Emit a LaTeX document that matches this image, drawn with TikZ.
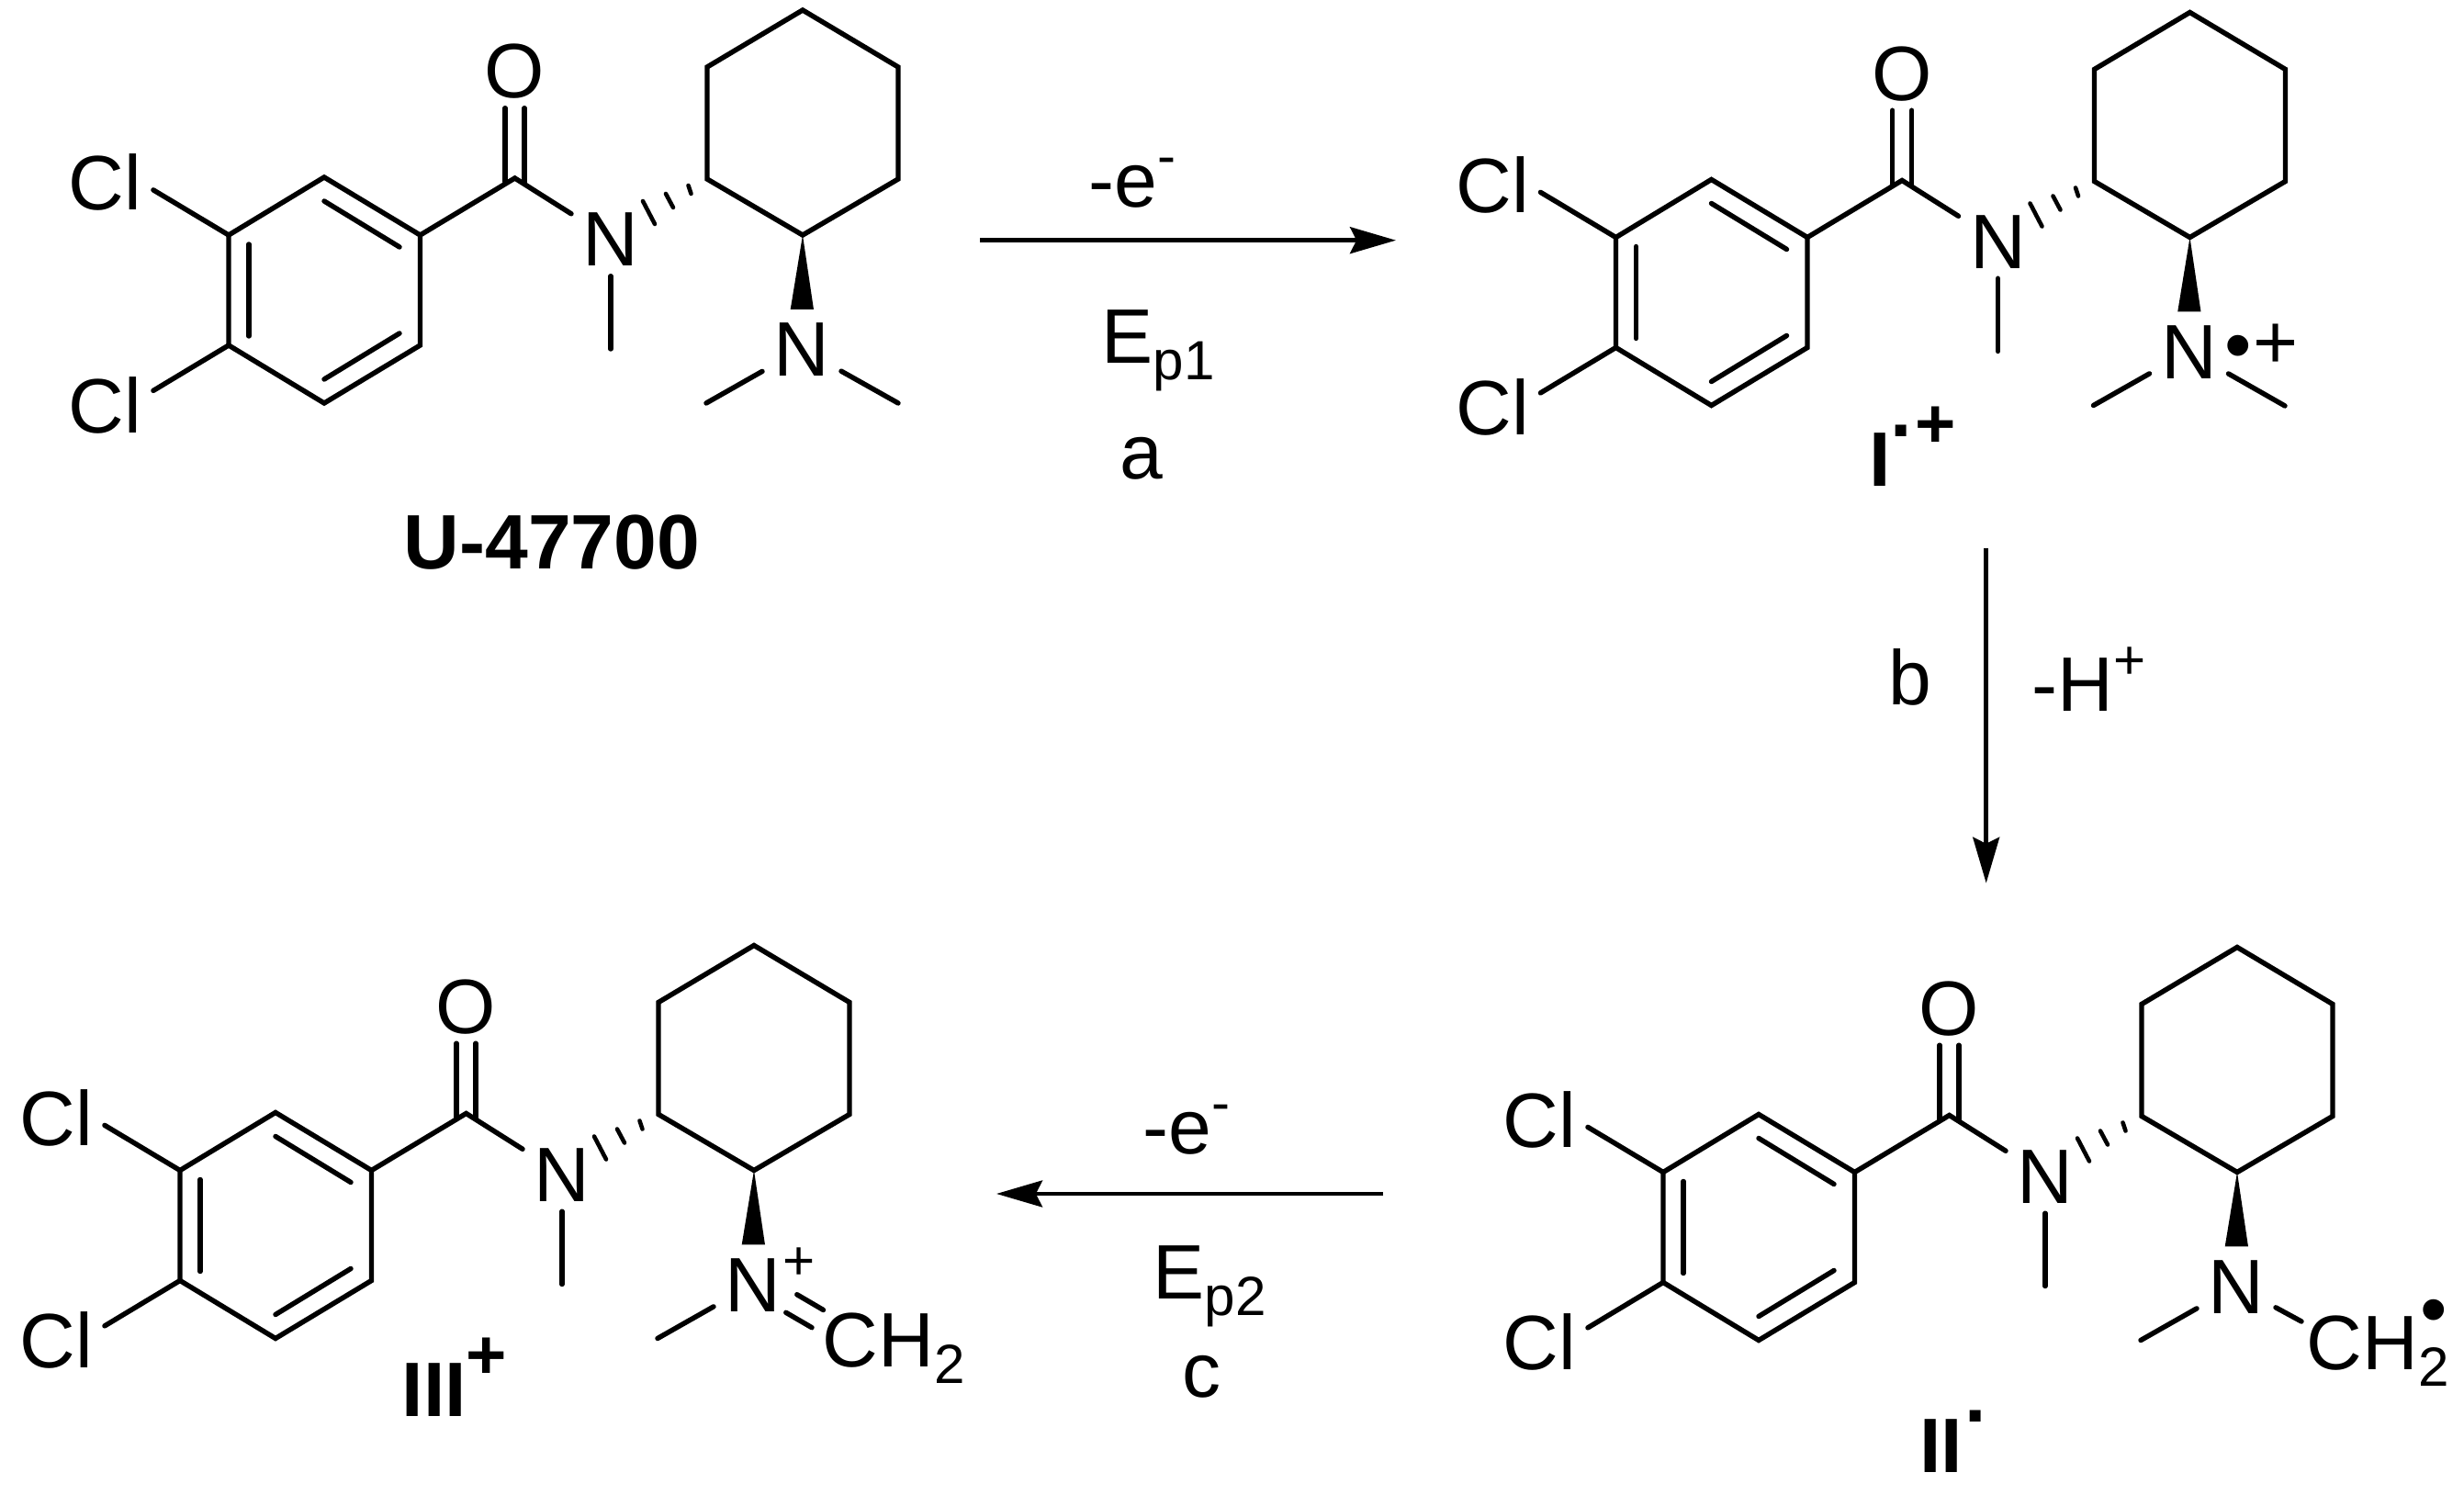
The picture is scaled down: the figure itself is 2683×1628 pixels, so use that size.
\documentclass[tikz,border=0pt]{standalone}
\usepackage{fontspec}
\setmainfont{Liberation Sans}
\usetikzlibrary{arrows.meta,calc}
\newcommand{\bigfont}{\fontsize{23.9pt}{28pt}\selectfont}
\newcommand{\smallfont}{\fontsize{17.1pt}{20pt}\selectfont}
\newcommand{\rsup}[1]{\raisebox{10pt}{\smallfont #1}}
\newcommand{\rsub}[1]{\raisebox{-4.9pt}{\smallfont #1}}
\tikzset{
  bond/.style={line width=1.55pt,line cap=round},
  hashbond/.style={line width=1.3pt,line cap=round},
  rxn/.style={line width=1.35pt,-{Stealth[length=14.2pt,width=8.2pt,inset=2pt]}},
  atom/.style={font=\bigfont,anchor=base,inner xsep=3.4pt,inner ysep=2.85pt,text height=17.07pt,text depth=0pt},
  txt/.style={font=\bigfont,anchor=base west,inner sep=0pt},
  glyph/.style={font=\bigfont,anchor=base,inner sep=0pt},
  core/.pic={
    \coordinate (-r1) at (874,11);
    \coordinate (-r2) at (978,73);
    \coordinate (-r3) at (978,195);
    \coordinate (-r4) at (874,256);
    \coordinate (-r5) at (770,195);
    \coordinate (-r6) at (770,73);
    \coordinate (-b1) at (353,193);
    \coordinate (-b2) at (457.5,256);
    \coordinate (-b3) at (457.5,376);
    \coordinate (-b4) at (353,439);
    \coordinate (-b5) at (249,376);
    \coordinate (-b6) at (249,256);
    \coordinate (-co) at (560.6,194);
    \coordinate (-mea) at (665,380);
    \coordinate (-mel) at (769,439);
    \node[atom] (-cla) at (114.6,228.6) {Cl};
    \node[atom] (-clb) at (114.6,471.4) {Cl};
    \node[atom] (-ob) at (560.6,107) {O};
    \node[atom] (-na) at (665,290) {N};
    \node[atom] (-nb) at (873,410) {N};
    \draw[bond] (-r1) -- (-r2) -- (-r3) -- (-r4) -- (-r5) -- (-r6) -- cycle;
    \draw[bond] (-b1) -- (-b2) -- (-b3) -- (-b4) -- (-b5) -- (-b6) -- cycle;
    \draw[bond] (353,219) -- (435,269);
    \draw[bond] (271,266) -- (271,366);
    \draw[bond] (435,363) -- (353,413);
    \draw[bond] (-b2) -- (-co) -- (-na);
    \draw[bond] ($(-co)+(-10.5,4)$) -- ($(-ob.south)+(-10.5,0)$);
    \draw[bond] ($(-co)+(10.5,5)$) -- ($(-ob.south)+(10.5,0)$);
    \draw[bond] (-b6) -- (-cla.-9);
    \draw[bond] (-b5) -- (-clb.17);
    \draw[bond] (-na) -- (-mea);
    \draw[bond] (-nb) -- (-mel);
    \draw[hashbond] (749.5,202) -- (752.5,211);
    \draw[hashbond] (725,211) -- (733,226);
    \draw[hashbond] (700,219) -- (713,244);
    \fill (-r4) -- (860.7,337) -- (886,337) -- cycle;
  }
}
\begin{document}
\begin{tikzpicture}[x=0.01cm,y=-0.01cm]
\useasboundingbox (0,0) rectangle (2683,1628);
\pic (mA) at (0,0) {core};
\pic (mB) at (1510.5,2.5) {core};
\pic (mC) at (-53,1018.5) {core};
\pic (mD) at (1562,1020.5) {core};
\coordinate (meA) at (978,439);
\coordinate (meB) at (2488,442);
\coordinate (chD) at (2506,1439);
\draw[bond] (mA-nb) -- (meA);
\draw[bond] (mB-nb) -- (meB);
\draw[bond] (mD-nb) -- (chD);
\node[glyph] (dotB) at (2437,405) {•};
\node[glyph] (plusB) at (2478.5,402) {+};
\node[glyph,font=\smallfont] (plusC) at (870,1393.6) {+};
\node[txt] (chC) at (895,1489) {CH\rsub{2}};
\node[txt] (chDtxt) at (2511,1491.8) {CH\rsub{2}};
\node[glyph] (dotD) at (2650.4,1455) {•};
\coordinate (dba) at (867.8,1409.7);
\coordinate (dbb) at (896.5,1426.5);
\coordinate (dbc) at (855.8,1429.3);
\coordinate (dbd) at (884,1445.7);
\draw[bond] (dba) -- (dbb);
\draw[bond] (dbc) -- (dbd);
\node[txt,font=\bigfont\bfseries,anchor=base] (nameA) at (601,619.6) {U-47700};
\node[txt,font=\bigfont\bfseries] (nameB) at (2034.3,530) {I\raisebox{15.4pt}{.}\hspace{1.1pt}\raisebox{12pt}{\fontsize{21.6pt}{24pt}\selectfont +}};
\node[txt,font=\bigfont\bfseries] (nameC) at (437,1543) {III\raisebox{11.7pt}{\fontsize{21.6pt}{24pt}\selectfont +}};
\node[txt,font=\bigfont\bfseries] (nameD) at (2089.3,1603.5) {II\hspace{0.8pt}\raisebox{15.6pt}{.}};
\coordinate (rxaS) at (1067,261.7);
\coordinate (rxaE) at (1520,261.7);
\coordinate (rxbS) at (2162.7,597);
\coordinate (rxbE) at (2162.7,961.7);
\coordinate (rxcS) at (1506,1300);
\coordinate (rxcE) at (1085,1300);
\draw[rxn] (rxaS) -- (rxaE);
\draw[rxn] (rxbS) -- (rxbE);
\draw[rxn] (rxcS) -- (rxcE);
\node[txt] (lossA) at (1185,226) {-e\rsup{-}};
\node[txt] (potA) at (1199,396) {E\rsub{p1}};
\node[txt] (stepA) at (1218.6,522) {a};
\node[txt] (stepB) at (2056,768) {b};
\node[txt] (lossB) at (2212,775) {-H\rsup{+}};
\node[txt] (lossC) at (1244,1257) {-e\rsup{-}};
\node[txt] (potC) at (1255,1415) {E\rsub{p2}};
\node[txt] (stepC) at (1286.5,1522) {c};
\end{tikzpicture}
\end{document}
